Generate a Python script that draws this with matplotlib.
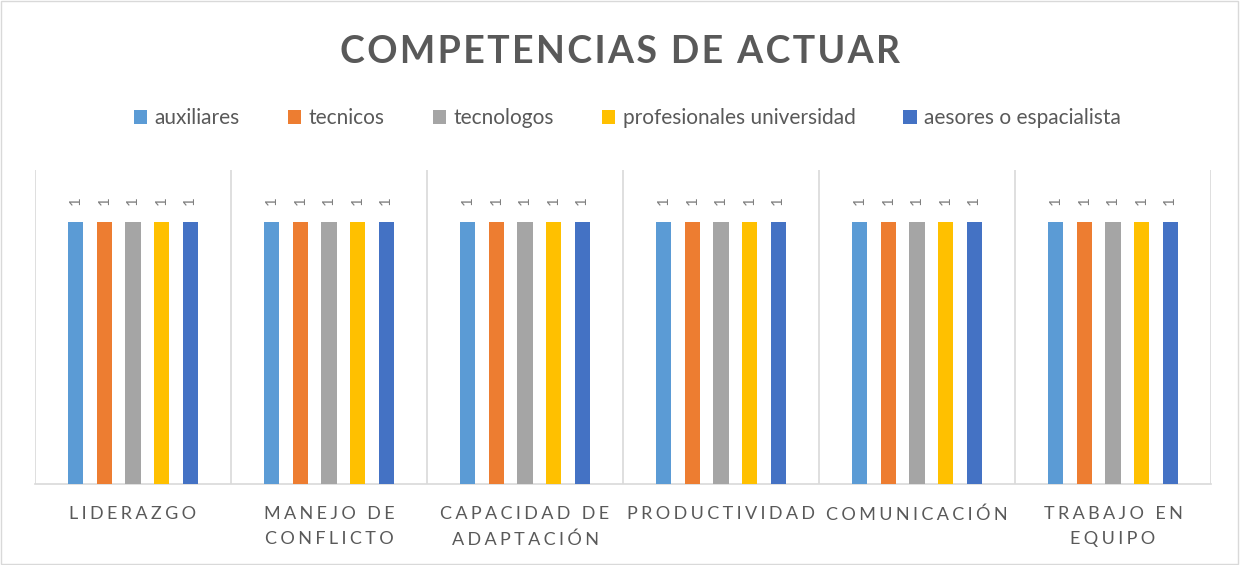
import matplotlib
matplotlib.use("Agg")
import matplotlib.pyplot as plt
import numpy as np
from matplotlib.patches import Rectangle

categories = ["LIDERAZGO", "MANEJO DE\nCONFLICTO", "CAPACIDAD DE\nADAPTACIÓN",
              "PRODUCTIVIDAD", "COMUNICACIÓN", "TRABAJO EN\nEQUIPO"]
series_names = ["auxiliares", "tecnicos", "tecnologos",
                "profesionales universidad", "aesores o espacialista"]
auxiliares = [1, 1, 1, 1, 1, 1]
tecnicos = [1, 1, 1, 1, 1, 1]
tecnologos = [1, 1, 1, 1, 1, 1]
profesionales = [1, 1, 1, 1, 1, 1]
asesores = [1, 1, 1, 1, 1, 1]
series_values = [auxiliares, tecnicos, tecnologos, profesionales, asesores]
colors = ["#5B9BD5", "#ED7D31", "#A5A5A5", "#FFC000", "#4472C4"]
title = "COMPETENCIAS DE ACTUAR"

FAM = ["Lato", "DejaVu Sans"]
plt.rcParams['font.family'] = FAM
TXT = "#595959"


def spaced(s, sep="\u2009"):
    return "\n".join(sep.join(list(line)) for line in s.split("\n"))


fig = plt.figure(figsize=(12.4, 5.65), dpi=100)
fig.patches.append(Rectangle((0.001, 0.001), 0.997, 0.997, transform=fig.transFigure,
                             fill=False, edgecolor="#D9D9D9", linewidth=1))
ax = fig.add_axes([35 / 1240, 1 - 484 / 565, (1211 - 35) / 1240, (484 - 170) / 565])

x = np.arange(len(categories))
step = 0.146
width = 0.078
for i, (name, vals, c) in enumerate(zip(series_names, series_values, colors)):
    pos = x + (i - 2) * step
    bars = ax.bar(pos, vals, width=width, color=c, label=name, zorder=3)
    for b, v in zip(bars, vals):
        ax.text(b.get_x() + b.get_width() / 2, v + 0.082, f"{v}", rotation=90,
                ha="center", va="center", fontsize=11, color="#808080")

ax.set_xlim(-0.5, len(categories) - 0.5)
ax.set_ylim(0, 1.2)
for k in range(len(categories) + 1):
    ax.axvline(k - 0.5, color="#D9D9D9", linewidth=1.2, zorder=1)
for s in ["top", "left", "right"]:
    ax.spines[s].set_visible(False)
ax.spines["bottom"].set_color("#D9D9D9")
ax.spines["bottom"].set_linewidth(1.2)
ax.set_yticks([])
ax.set_xticks(x)
ax.set_xticklabels([spaced(c, "\u2009\u200a") for c in categories], fontsize=13,
                   color=TXT, linespacing=1.7)
ax.tick_params(axis="x", length=0, pad=16)

fig.text(0.5, 1 - 52 / 565, spaced(title, "\u200a"), ha="center", va="center",
         fontsize=27, fontweight="bold", color=TXT)

leg = fig.legend(loc="center", bbox_to_anchor=(0.506, 1 - 118 / 565), ncol=5,
                 frameon=False, fontsize=15, handlelength=0.65, handleheight=0.65,
                 handletextpad=0.35, columnspacing=2.3)
for t in leg.get_texts():
    t.set_color(TXT)

fig.savefig("out.png", dpi=100)
